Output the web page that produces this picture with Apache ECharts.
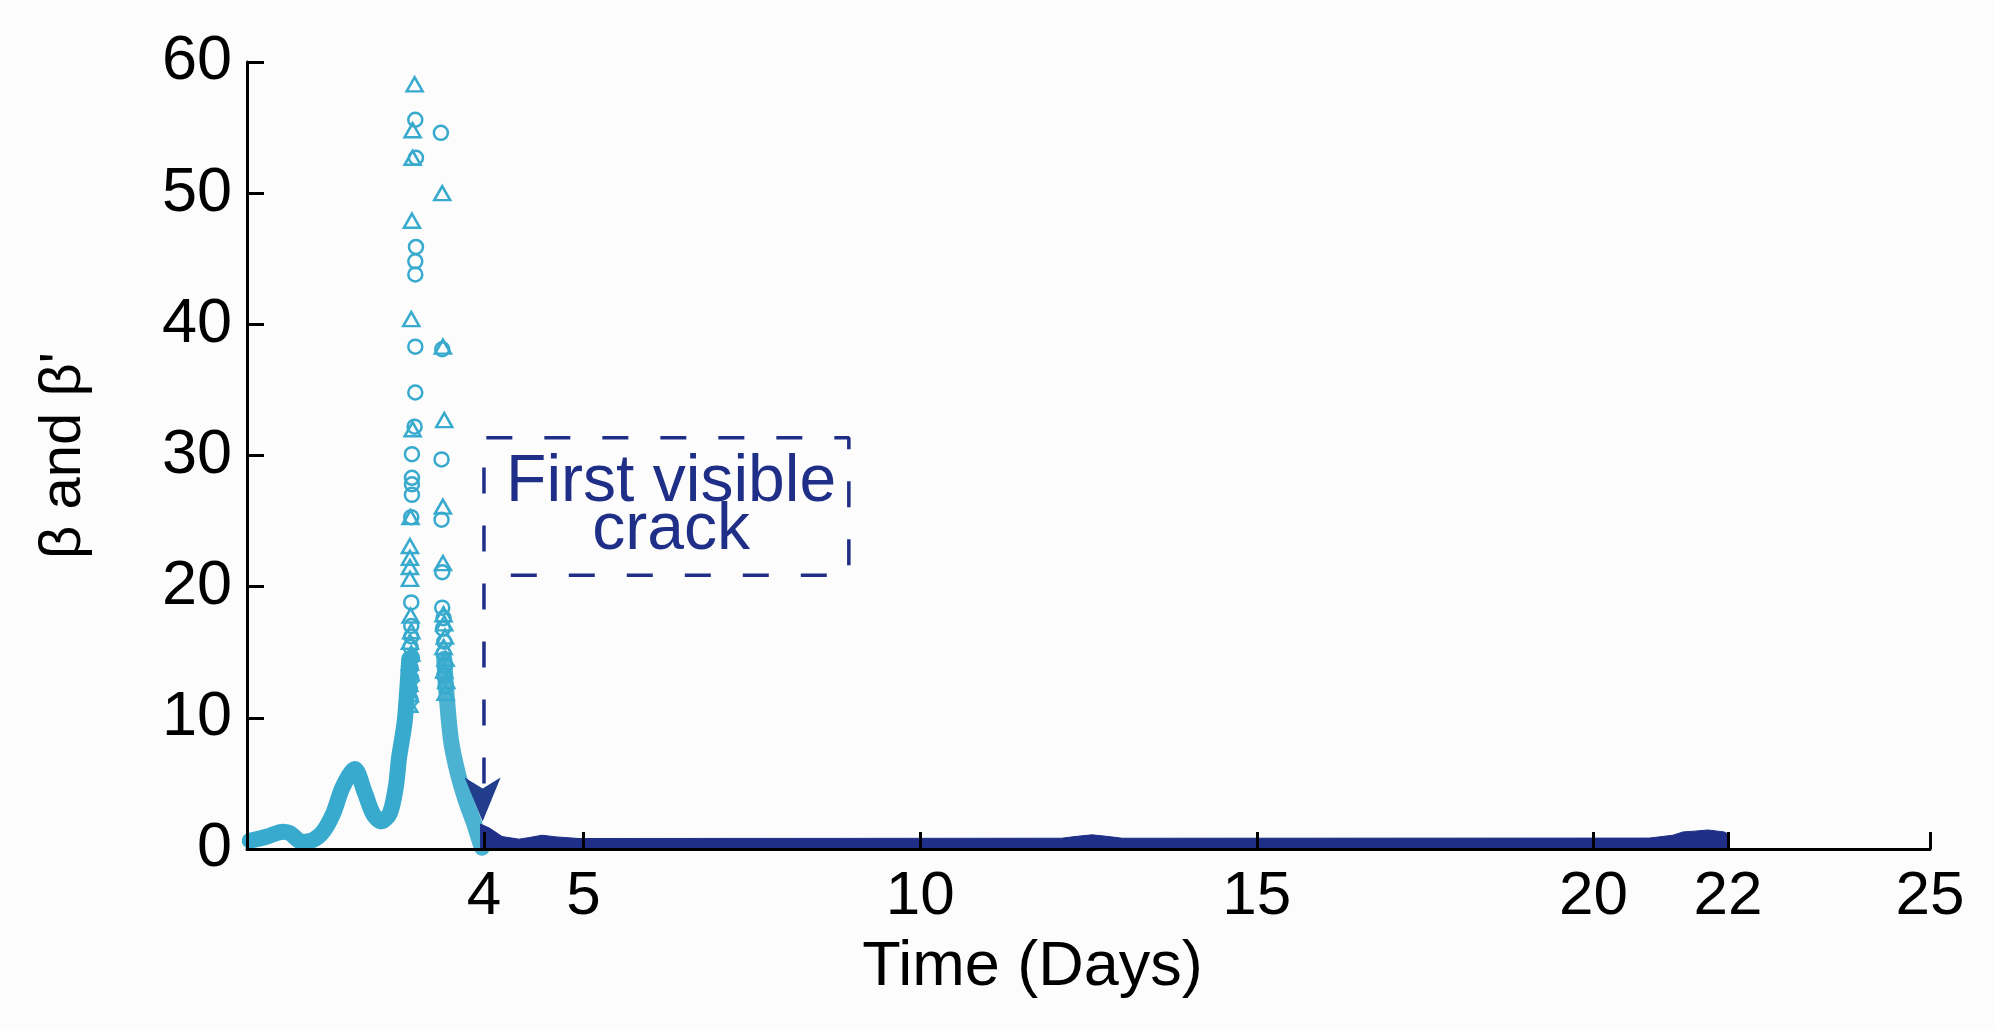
<!DOCTYPE html>
<html>
<head>
<meta charset="utf-8">
<title>beta vs time</title>
<script src="https://cdn.jsdelivr.net/npm/echarts@6.0.0/dist/echarts.min.js"></script>
<style>
  html, body { margin: 0; padding: 0; background: #fcfcfc; }
  #chart { width: 1995px; height: 1029px; }
</style>
</head>
<body>
<div id="chart"></div>
<script>
// x axis ticks (the "4" tick sits at the crack time)
const xTickValues = [3.52, 5, 10, 15, 20, 22, 25];
const xTickLabels = ['4', '5', '10', '15', '20', '22', '25'];

// light blue band before the crack, rising side and falling side of the spike
const riseData = [[0.04, 0.63], [0.29, 0.94], [0.54, 1.32], [0.64, 1.2], [0.81, 0.56], [0.98, 0.69],
  [1.13, 1.32], [1.28, 2.7], [1.42, 4.7], [1.6, 6.1], [1.75, 4.3], [1.87, 2.7], [1.99, 2.1],
  [2.12, 2.7], [2.21, 4.7], [2.26, 7.0], [2.34, 9.6], [2.38, 12.1], [2.41, 14.5]];
const fallData = [[2.93, 14.5], [2.96, 12.1], [3.03, 8.3], [3.13, 5.8], [3.25, 3.7], [3.37, 2.0],
  [3.45, 0.7], [3.49, 0.1]];

// sparse markers of the spike
const betaCircles = [[2.50, 55.6], [2.51, 52.7], [2.51, 45.9], [2.50, 44.8], [2.50, 43.8], [2.50, 38.3],
  [2.50, 34.8], [2.49, 32.2], [2.45, 30.1], [2.45, 28.3], [2.45, 27.8], [2.45, 27.0], [2.44, 25.3],
  [2.44, 18.8], [2.44, 17.0], [2.44, 16.2], [2.43, 15.4], [2.45, 14.6], [2.43, 13.8], [2.44, 13.0],
  [2.42, 12.2], [2.43, 11.4],
  [2.88, 54.6], [2.90, 38.1], [2.89, 29.7], [2.89, 25.1], [2.90, 21.1], [2.90, 18.4], [2.92, 17.6],
  [2.91, 16.8], [2.93, 15.8], [2.92, 14.9], [2.94, 14.0], [2.93, 13.2], [2.95, 12.4]];
const betaPrimeTriangles = [[2.49, 58.3], [2.46, 54.8], [2.46, 52.7], [2.45, 47.9], [2.44, 40.4],
  [2.46, 32.0], [2.43, 25.3], [2.42, 23.1], [2.42, 22.2], [2.42, 21.5], [2.42, 20.6], [2.43, 17.8],
  [2.44, 16.6], [2.42, 15.8], [2.44, 14.9], [2.42, 14.2], [2.43, 13.4], [2.41, 12.6], [2.42, 11.8],
  [2.41, 11.0],
  [2.90, 50.0], [2.91, 38.3], [2.93, 32.7], [2.91, 26.1], [2.91, 21.8], [2.92, 17.9], [2.93, 17.2],
  [2.94, 16.2], [2.92, 15.4], [2.95, 14.5], [2.93, 13.6], [2.96, 12.8], [2.95, 11.9]];

// dark band after the crack
const afterData = [[3.47, 0], [3.47, 1.9], [3.6, 1.6], [3.79, 0.95], [4.04, 0.75], [4.2, 0.88],
  [4.38, 1.05], [4.6, 0.92], [4.93, 0.8], [12.1, 0.82], [12.3, 0.95], [12.55, 1.08], [12.8, 0.95],
  [13.0, 0.82], [20.83, 0.83], [20.84, 0.96], [21.18, 1.05], [21.33, 1.3], [21.5, 1.36], [21.7, 1.45],
  [21.94, 1.3], [22.0, 1.15], [22.0, 0]];

// annotation
const boxPath = [[3.52, 5.0], [3.52, 31.35], [8.94, 31.35], [8.94, 20.87], [3.52, 20.87]];
const arrowTip = [[3.50, 2.1]];
const notePoint = [[6.30, 26.1]];
const noteText = 'First visible\ncrack';

const lightBlue = '#37aacd';
const navy = '#1f2e87';
const font = 'Liberation Sans, Arial, Helvetica, sans-serif';

let chart = echarts.init(document.getElementById('chart'), null, {renderer: 'canvas'});

let option = {
  backgroundColor: '#fcfcfc',
  animation: false,
  grid: {left: 247, right: 65, top: 62, bottom: 180},
  xAxis: {
    type: 'value',
    min: 0,
    max: 25,
    z: 5,
    name: 'Time (Days)',
    nameLocation: 'middle',
    nameGap: 87,
    nameTextStyle: {fontFamily: font, fontSize: 63, color: '#000', padding: [0, 112, 0, 0]},
    axisLine: {lineStyle: {color: '#000', width: 3}},
    axisTick: {inside: true, length: 17, lineStyle: {color: '#000', width: 3}, customValues: xTickValues},
    axisLabel: {
      customValues: xTickValues,
      margin: 17,
      fontFamily: font,
      fontSize: 62,
      color: '#000',
      formatter: function (v) {
        let i = xTickValues.indexOf(v);
        return i >= 0 ? xTickLabels[i] : '';
      }
    },
    splitLine: {show: false}
  },
  yAxis: {
    type: 'value',
    min: 0,
    max: 60,
    interval: 10,
    z: 5,
    name: "β and β'",
    nameLocation: 'middle',
    nameGap: 154,
    nameTextStyle: {fontFamily: font, fontSize: 58, color: '#000'},
    axisLine: {show: true, lineStyle: {color: '#000', width: 3}},
    axisTick: {show: true, inside: true, length: 17, lineStyle: {color: '#000', width: 3}},
    axisLabel: {margin: 15, fontFamily: font, fontSize: 63, color: '#000'},
    splitLine: {show: false}
  },
  series: [
    {
      name: 'rise',
      type: 'line',
      data: riseData,
      symbol: 'none',
      smooth: 0.3,
      lineStyle: {color: lightBlue, width: 16, cap: 'round', join: 'round'},
      z: 2
    },
    {
      name: 'fall',
      type: 'line',
      data: fallData,
      symbol: 'none',
      smooth: 0.3,
      lineStyle: {color: lightBlue, width: 16, cap: 'round', join: 'round', opacity: 0.9},
      z: 2
    },
    {
      name: 'beta',
      type: 'scatter',
      data: betaCircles,
      symbol: 'circle',
      symbolSize: 14,
      itemStyle: {color: 'transparent', borderColor: lightBlue, borderWidth: 2.5, opacity: 1},
      z: 2
    },
    {
      name: "beta'",
      type: 'scatter',
      data: betaPrimeTriangles,
      symbol: 'triangle',
      symbolSize: [16, 14],
      itemStyle: {color: 'transparent', borderColor: lightBlue, borderWidth: 2.5, opacity: 1},
      z: 2
    },
    {
      name: 'after crack',
      type: 'line',
      data: afterData,
      symbol: 'none',
      lineStyle: {color: navy, width: 1},
      areaStyle: {color: navy, opacity: 1},
      z: 3
    },
    {
      name: 'box',
      type: 'line',
      data: boxPath,
      symbol: 'none',
      silent: true,
      lineStyle: {color: navy, width: 3.5, type: [26, 32]},
      z: 4
    },
    {
      // ECharts places the arrow tip at the point itself
      name: 'arrow',
      type: 'scatter',
      data: arrowTip,
      symbol: 'arrow',
      symbolRotate: 180,
      symbolSize: [27, 44],
      silent: true,
      itemStyle: {color: '#213d8b', opacity: 1},
      z: 4
    },
    {
      name: 'note',
      type: 'scatter',
      data: notePoint,
      symbolSize: 0,
      silent: true,
      itemStyle: {opacity: 1},
      label: {
        show: true,
        position: 'inside',
        formatter: noteText,
        fontFamily: font,
        fontSize: 66,
        lineHeight: 48,
        color: navy,
        opacity: 1,
        align: 'center',
        verticalAlign: 'middle'
      },
      z: 4
    }
  ]
};

chart.setOption(option);
</script>
</body>
</html>
